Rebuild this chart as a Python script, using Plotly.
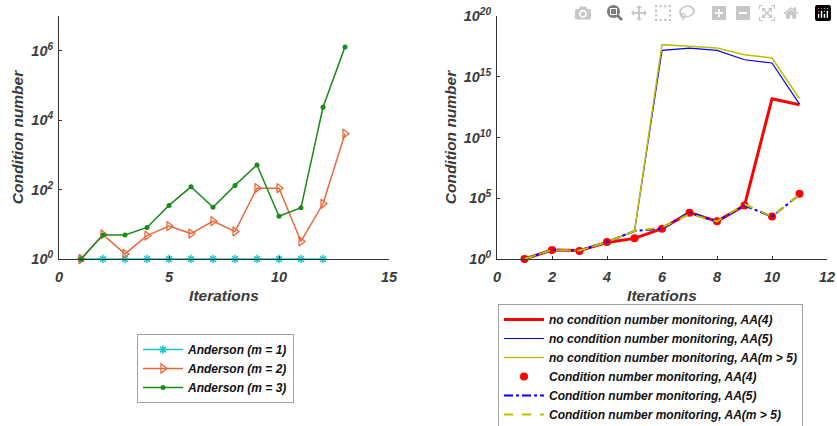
import plotly.graph_objects as go

# ---------------- data ----------------
iters_left_m1 = [1, 2, 3, 4, 5, 6, 7, 8, 9, 10, 11, 12]
anderson_m1 = [1, 1, 1, 1, 1, 1, 1, 1, 1, 1, 1, 1]
iters_left = [1, 2, 3, 4, 5, 6, 7, 8, 9, 10, 11, 12, 13]
anderson_m2 = [1, 5.1, 1.4, 4.7, 8.9, 5.4, 12.3, 6.2, 110, 110, 3.2, 39, 4070]
anderson_m3 = [1, 4.9, 4.9, 8.1, 35, 120, 31, 132, 513, 17, 30, 23400, 1.29e6]

iters_right = [1, 2, 3, 4, 5, 6, 7, 8, 9, 10, 11]
nomon_aa4 = [1, 5.5, 4.9, 23, 50, 316, 6600, 1260, 25000, 1.55e13, 4.9e12]
nomon_aa5 = [1, 5.5, 4.9, 25, 200, 1.5e17, 2.3e17, 1.5e17, 2.5e16, 1.35e16, 5.6e12]
nomon_aam = [1, 5.5, 4.9, 25, 200, 4.4e17, 3.2e17, 2.3e17, 6.5e16, 3.5e16, 1.55e13]
mon_aa4 = [1, 5.5, 4.6, 25, 50, 316, 6300, 1260, 25000, 3100, 2.3e5]
mon_aa5 = [1, 5.5, 5.0, 25, 200, 316, 7000, 1260, 25000, 3100, 2.0e5]
mon_aam = [1, 5.5, 5.0, 25, 200, 400, 5000, 1260, 32000, 3100, 2.0e5]

left_xticks = [0, 5, 10, 15]
left_ytick_exp = [0, 2, 4, 6]
right_xticks = [0, 2, 4, 6, 8, 10, 12]
right_ytick_exp = [0, 5, 10, 15, 20]

# ---------------- styles ----------------
FONT = "Liberation Sans, Arial, sans-serif"
TXT = "#3a3a3a"
AX = "#333333"
W, H = 837, 426

fig = go.Figure()

fig.add_trace(go.Scatter(x=iters_left_m1, y=anderson_m1, mode="lines+markers",
                         name="Anderson (m = 1)", line=dict(color="#1cc6c9", width=1.5),
                         marker=dict(symbol="asterisk-open", size=7, color="#1cc6c9",
                                     line=dict(width=1.5, color="#1cc6c9")),
                         cliponaxis=False, legend="legend", xaxis="x", yaxis="y"))
fig.add_trace(go.Scatter(x=iters_left, y=anderson_m2, mode="lines+markers",
                         name="Anderson (m = 2)", line=dict(color="#e8683a", width=1.5),
                         marker=dict(symbol="triangle-right-open", size=8, color="#e8683a",
                                     line=dict(width=1.3, color="#e8683a")),
                         cliponaxis=False, legend="legend", xaxis="x", yaxis="y"))
fig.add_trace(go.Scatter(x=iters_left, y=anderson_m3, mode="lines+markers",
                         name="Anderson (m = 3)", line=dict(color="#1a8a1a", width=1.5),
                         marker=dict(symbol="circle", size=5, color="#1a8a1a"),
                         cliponaxis=False, legend="legend", xaxis="x", yaxis="y"))

fig.add_trace(go.Scatter(x=iters_right, y=nomon_aa4, mode="lines",
                         name="no condition number monitoring, AA(4)",
                         line=dict(color="#ff0000", width=3),
                         cliponaxis=False, legend="legend2", xaxis="x2", yaxis="y2"))
fig.add_trace(go.Scatter(x=iters_right, y=nomon_aa5, mode="lines",
                         name="no condition number monitoring, AA(5)",
                         line=dict(color="#0000ff", width=1.2),
                         cliponaxis=False, legend="legend2", xaxis="x2", yaxis="y2"))
fig.add_trace(go.Scatter(x=iters_right, y=nomon_aam, mode="lines",
                         name="no condition number monitoring, AA(m > 5)",
                         line=dict(color="#bfbf00", width=1.5),
                         cliponaxis=False, legend="legend2", xaxis="x2", yaxis="y2"))
fig.add_trace(go.Scatter(x=iters_right, y=mon_aa4, mode="markers",
                         name="Condition number monitoring, AA(4)",
                         marker=dict(symbol="circle", size=8, color="#ff0000"),
                         cliponaxis=False, legend="legend2", xaxis="x2", yaxis="y2"))
fig.add_trace(go.Scatter(x=iters_right, y=mon_aa5, mode="lines",
                         name="Condition number monitoring, AA(5)",
                         line=dict(color="#0000ff", width=2, dash="dashdot"),
                         cliponaxis=False, legend="legend2", xaxis="x2", yaxis="y2"))
fig.add_trace(go.Scatter(x=iters_right, y=mon_aam, mode="lines",
                         name="Condition number monitoring, AA(m > 5)",
                         line=dict(color="#bfbf00", width=2, dash="dash"),
                         cliponaxis=False, legend="legend2", xaxis="x2", yaxis="y2"))

tickfont = dict(family=FONT, size=14.5, color=TXT, weight="bold", style="italic")
titlefont = dict(family=FONT, size=15.5, color=TXT, weight="bold", style="italic")

def xax(domain, rng, ticks):
    return dict(domain=domain, range=rng, tickvals=ticks, ticktext=[str(t) for t in ticks],
                showline=True, linecolor=AX, linewidth=1, showgrid=False, zeroline=False,
                ticks="inside", ticklen=3, tickcolor=AX, tickfont=tickfont, automargin=False,
                ticklabelstandoff=5,
                title=dict(text="Iterations", font=titlefont, standoff=5))

def yax(domain, exps, top, anchor):
    return dict(domain=domain, type="log", range=[0, top],
                tickvals=[10.0 ** e for e in exps],
                ticktext=["10<sup>%d</sup>" % e for e in exps],
                showline=True, linecolor=AX, linewidth=1, showgrid=False, zeroline=False,
                ticks="inside", ticklen=3, tickcolor=AX, tickfont=tickfont,
                automargin=False, anchor=anchor, ticklabelstandoff=2,
                title=dict(text="Condition number", font=titlefont, standoff=3))

ydom = [1 - 259 / H, 1 - 16 / H]
legfont = dict(family=FONT, size=12, color="#111111", weight="bold", style="italic")
fig.update_layout(
    width=W, height=H,
    margin=dict(l=0, r=0, t=0, b=0, autoexpand=False),
    paper_bgcolor="white", plot_bgcolor="white",
    xaxis=dict(**xax([59 / W, 389 / W], [0, 15], left_xticks), anchor="y"),
    yaxis=yax(ydom, left_ytick_exp, 7, "x"),
    xaxis2=dict(**xax([497 / W, 827 / W], [0, 12], right_xticks), anchor="y2"),
    yaxis2=yax(ydom, right_ytick_exp, 20, "x2"),
    legend=dict(x=137 / W, y=1 - 334 / H, xanchor="left", yanchor="top",
                bordercolor="#a0a0a0", borderwidth=1, bgcolor="white",
                font=legfont, tracegroupgap=0, itemwidth=40),
    legend2=dict(x=498 / W, y=1 - 304 / H, xanchor="left", yanchor="top",
                 bordercolor="#a0a0a0", borderwidth=1, bgcolor="white",
                 font=legfont, tracegroupgap=0, itemwidth=40),
    showlegend=True,
)

fig.write_html("out.html", post_script="document.body.style.margin='0px';")
